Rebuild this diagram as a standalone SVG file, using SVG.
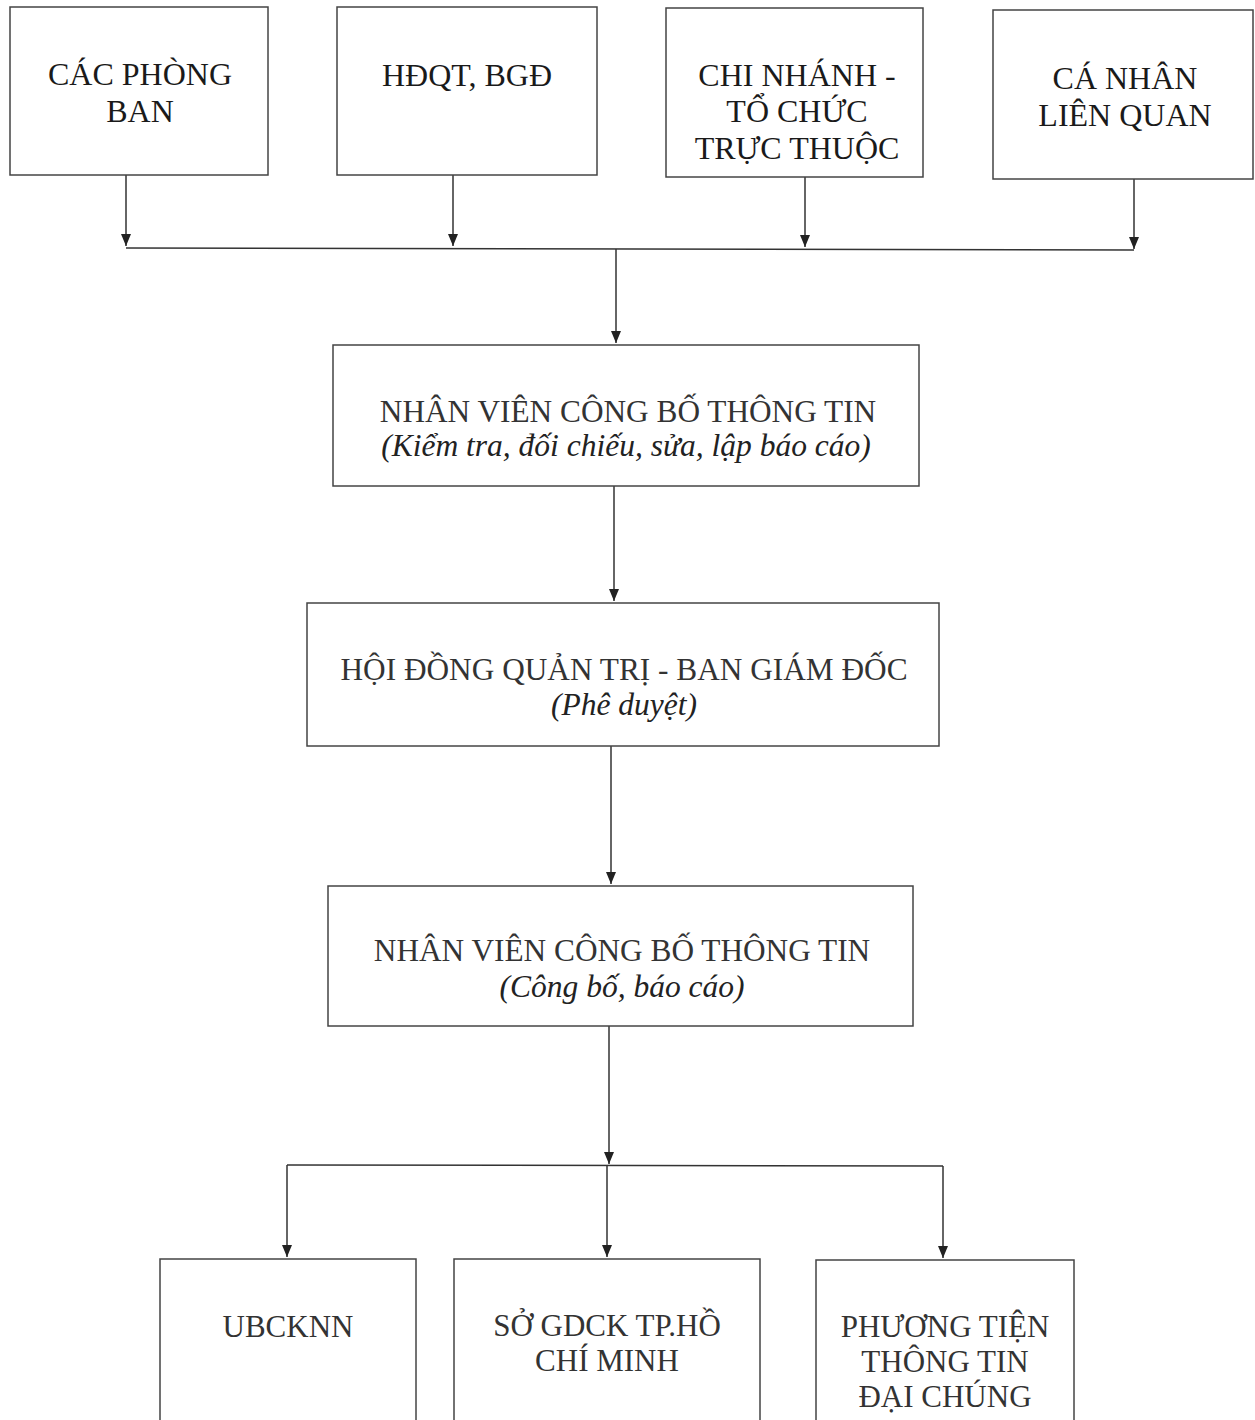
<svg xmlns="http://www.w3.org/2000/svg" width="1255" height="1420" viewBox="0 0 1255 1420">
<defs>
<marker id="arr" viewBox="0 0 12 10" refX="12" refY="5" markerWidth="12" markerHeight="10" markerUnits="userSpaceOnUse" orient="auto">
<path d="M0,0 L12,5 L0,10 Z" fill="#222"/>
</marker>
</defs>
<style>
rect.box{fill:#fff;stroke:#444;stroke-width:1.5}
.t{font-family:"Liberation Serif","Times New Roman",serif;fill:#1a1a1a;text-anchor:middle;font-size:32px}
.m{font-family:"Liberation Serif","Times New Roman",serif;fill:#333;text-anchor:middle;font-size:31.3px}
.i{font-family:"Liberation Serif","Times New Roman",serif;fill:#222;text-anchor:middle;font-size:31.5px;font-style:italic}
.b{font-family:"Liberation Serif","Times New Roman",serif;fill:#333;text-anchor:middle;font-size:31px}
.c{fill:none;stroke:#333;stroke-width:1.5}
</style>
<rect width="1255" height="1420" fill="#fff"/>
<g id="connectors">
<line class="c" x1="126" y1="175" x2="126" y2="246" marker-end="url(#arr)"/>
<line class="c" x1="453" y1="175" x2="453" y2="246" marker-end="url(#arr)"/>
<line class="c" x1="805" y1="177" x2="805" y2="247" marker-end="url(#arr)"/>
<line class="c" x1="1134" y1="179" x2="1134" y2="249" marker-end="url(#arr)"/>
<line class="c" x1="126" y1="248" x2="1134" y2="250"/>
<line class="c" x1="616" y1="249" x2="616" y2="343" marker-end="url(#arr)"/>
<line class="c" x1="614" y1="486" x2="614" y2="601" marker-end="url(#arr)"/>
<line class="c" x1="611" y1="746" x2="611" y2="884" marker-end="url(#arr)"/>
<line class="c" x1="609" y1="1026" x2="609" y2="1164" marker-end="url(#arr)"/>
<line class="c" x1="287" y1="1165" x2="943" y2="1166"/>
<line class="c" x1="287" y1="1165" x2="287" y2="1257" marker-end="url(#arr)"/>
<line class="c" x1="607" y1="1165" x2="607" y2="1257" marker-end="url(#arr)"/>
<line class="c" x1="943" y1="1166" x2="943" y2="1258" marker-end="url(#arr)"/>
</g>
<g id="n1"><rect class="box" x="10" y="7" width="258" height="168"/>
<text class="t" x="140" y="85">CÁC PHÒNG</text><text class="t" x="140" y="122">BAN</text></g>
<g id="n2"><rect class="box" x="337" y="7" width="260" height="168"/>
<text class="t" x="467" y="86">HĐQT, BGĐ</text></g>
<g id="n3"><rect class="box" x="666" y="8" width="257" height="169"/>
<text class="t" x="797" y="86">CHI NHÁNH -</text><text class="t" x="797" y="122">TỔ CHỨC</text><text class="t" x="797" y="159">TRỰC THUỘC</text></g>
<g id="n4"><rect class="box" x="993" y="10" width="260" height="169"/>
<text class="t" x="1125" y="89">CÁ NHÂN</text><text class="t" x="1125" y="126">LIÊN QUAN</text></g>
<g id="n5"><rect class="box" x="333" y="345" width="586" height="141"/>
<text class="m" x="628" y="422">NHÂN VIÊN CÔNG BỐ THÔNG TIN</text>
<text class="i" x="626" y="456">(Kiểm tra, đối chiếu, sửa, lập báo cáo)</text></g>
<g id="n6"><rect class="box" x="307" y="603" width="632" height="143"/>
<text class="m" x="624" y="680">HỘI ĐỒNG QUẢN TRỊ - BAN GIÁM ĐỐC</text>
<text class="i" x="624" y="715">(Phê duyệt)</text></g>
<g id="n7"><rect class="box" x="328" y="886" width="585" height="140"/>
<text class="m" x="622" y="961">NHÂN VIÊN CÔNG BỐ THÔNG TIN</text>
<text class="i" x="622" y="997">(Công bố, báo cáo)</text></g>
<g id="n8"><rect class="box" x="160" y="1259" width="256" height="175"/>
<text class="b" x="288" y="1337">UBCKNN</text></g>
<g id="n9"><rect class="box" x="454" y="1259" width="306" height="175"/>
<text class="b" x="607" y="1336">SỞ GDCK TP.HỒ</text><text class="b" x="607" y="1371">CHÍ MINH</text></g>
<g id="n10"><rect class="box" x="816" y="1260" width="258" height="175"/>
<text class="b" x="945" y="1337">PHƯƠNG TIỆN</text><text class="b" x="945" y="1372">THÔNG TIN</text><text class="b" x="945" y="1407">ĐẠI CHÚNG</text></g>
</svg>
